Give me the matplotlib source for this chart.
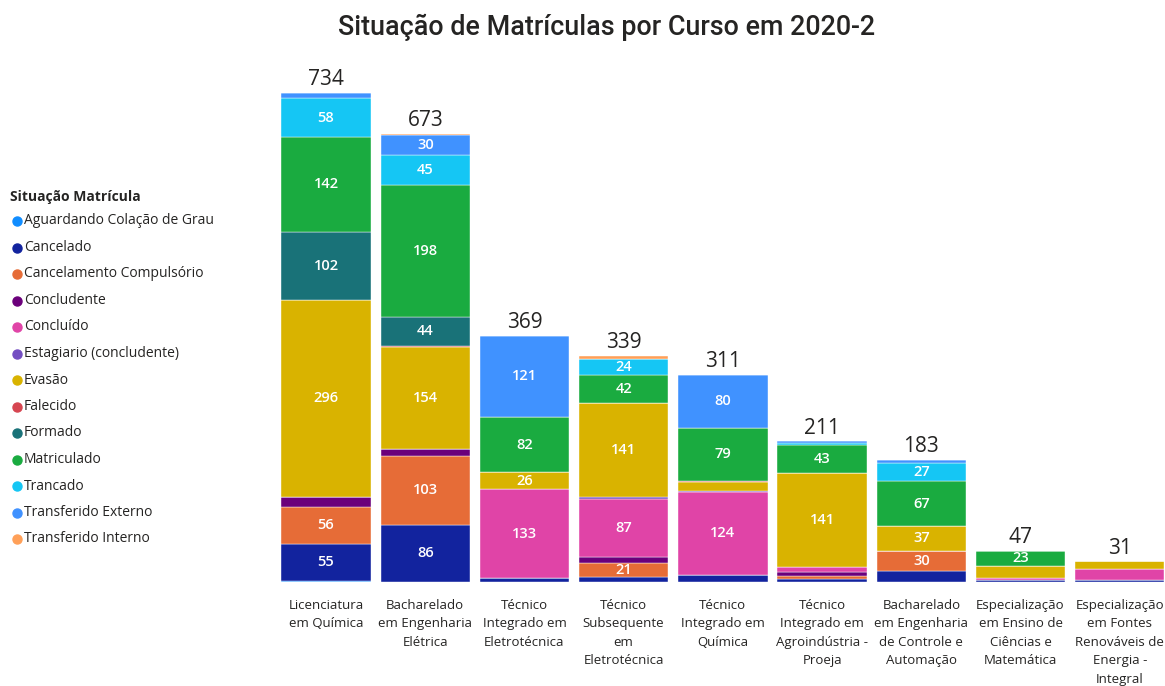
import numpy as np
import matplotlib.pyplot as plt
from matplotlib.lines import Line2D

plt.rcParams['font.family'] = ['Open Sans', 'DejaVu Sans']

cursos = ['Licenciatura\nem Química',
          'Bacharelado\nem Engenharia\nElétrica',
          'Técnico\nIntegrado em\nEletrotécnica',
          'Técnico\nSubsequente\nem\nEletrotécnica',
          'Técnico\nIntegrado em\nQuímica',
          'Técnico\nIntegrado em\nAgroindústria -\nProeja',
          'Bacharelado\nem Engenharia\nde Controle e\nAutomação',
          'Especialização\nem Ensino de\nCiências e\nMatemática',
          'Especialização\nem Fontes\nRenováveis de\nEnergia -\nIntegral']

situacoes = ['Aguardando Colação de Grau', 'Cancelado', 'Cancelamento Compulsório',
             'Concludente', 'Concluído', 'Estagiario (concludente)', 'Evasão',
             'Falecido', 'Formado', 'Matriculado', 'Trancado',
             'Transferido Externo', 'Transferido Interno']

cores = ['#118DFF', '#12239E', '#E66C37', '#6B007B', '#E044A7', '#744EC2', '#D9B300',
         '#D64550', '#197278', '#1AAB40', '#15C6F4', '#4092FF', '#FFA058']

# one list per situation, values per course (same order as cursos)
aguardando   = [2, 0, 0, 0, 0, 0, 0, 0, 0]
cancelado    = [55, 86, 6, 7, 11, 4, 17, 3, 3]
cancel_comp  = [56, 103, 0, 21, 0, 5, 30, 0, 0]
concludente  = [15, 10, 0, 9, 0, 6, 0, 0, 0]
concluido    = [0, 0, 133, 87, 124, 7, 0, 3, 16]
estagiario   = [0, 0, 0, 3, 2, 0, 0, 0, 0]
evasao       = [296, 154, 26, 141, 13, 141, 37, 18, 12]
falecido     = [0, 1, 0, 0, 2, 0, 0, 0, 0]
formado      = [102, 44, 0, 0, 0, 0, 0, 0, 0]
matriculado  = [142, 198, 82, 42, 79, 43, 67, 23, 0]
trancado     = [58, 45, 1, 24, 0, 3, 27, 0, 0]
transf_ext   = [8, 30, 121, 0, 80, 2, 5, 0, 0]
transf_int   = [0, 2, 0, 5, 0, 0, 0, 0, 0]

series = [aguardando, cancelado, cancel_comp, concludente, concluido, estagiario,
          evasao, falecido, formado, matriculado, trancado, transf_ext, transf_int]

fig = plt.figure(figsize=(11.65, 6.86), dpi=100)
ax = fig.add_axes([281.4 / 1165, 104 / 686, 883 / 1165, 533 / 686])

x = np.arange(len(cursos))
bottom = np.zeros(len(cursos))
for nome, vals, cor in zip(situacoes, series, cores):
    vals = np.array(vals, dtype=float)
    ax.bar(x, vals, 0.9, bottom=bottom, color=cor, label=nome,
           edgecolor='#ffffff', linewidth=0.3)
    for xi, v, b in zip(x, vals, bottom):
        if v >= 20:
            ax.text(xi, b + v / 2, f'{int(v)}', ha='center', va='center',
                    color='white', fontsize=10.5, fontweight='semibold')
    bottom += vals

for xi, t in zip(x, bottom):
    ax.annotate(f'{int(t)}', (xi, t), xytext=(0, 2), textcoords='offset points',
                ha='center', va='bottom', fontsize=15, color='#252423')

ax.set_xlim(-0.45, 8.45)
ax.set_ylim(0, 800)
ax.set_xticks(x)
ax.set_xticklabels(cursos, fontsize=9.5, color='#252423', linespacing=1.55, va='top')
ax.tick_params(axis='x', length=0, pad=12)
ax.set_yticks([])
for s in ax.spines.values():
    s.set_visible(False)

fig.text(607 / 1165, 1 - 27 / 686, 'Situação de Matrículas por Curso em 2020-2',
         ha='center', va='center', fontsize=19.4, color='#252423',
         family=['Roboto', 'DejaVu Sans'], fontweight='medium')

# legend
fig.text(10 / 1165, 1 - 197 / 686, 'Situação Matrícula', ha='left', va='center',
         fontsize=10, fontweight='bold', color='#252423')
for i, (nome, cor) in enumerate(zip(situacoes, cores)):
    yy = 1 - (221 + i * 26.5) / 686
    fig.add_artist(Line2D([17 / 1165], [yy], marker='o', markersize=6.5, color=cor,
                          transform=fig.transFigure))
    fig.text(24 / 1165, yy, nome, ha='left', va='center', fontsize=10, color='#252423')

fig.savefig('out.png', dpi=100)
